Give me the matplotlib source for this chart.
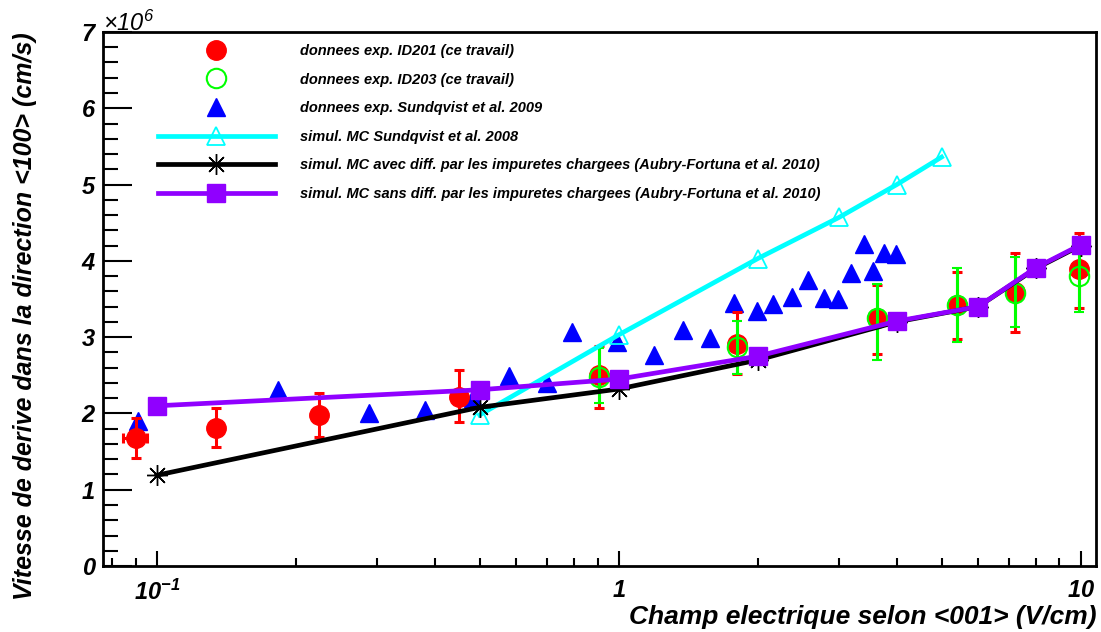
import numpy as np
import matplotlib
matplotlib.use('Agg')
import matplotlib.pyplot as plt
from matplotlib.lines import Line2D
from matplotlib.ticker import FixedLocator, NullFormatter, MultipleLocator

plt.rcParams['font.family'] = ['Liberation Sans', 'DejaVu Sans']
plt.rcParams['mathtext.fontset'] = 'custom'
plt.rcParams['mathtext.rm'] = 'Liberation Sans:italic'
plt.rcParams['mathtext.it'] = 'Liberation Sans:italic'
plt.rcParams['mathtext.bf'] = 'Liberation Sans:bold:italic'

# data (velocity in units of 1e6 cm/s)
red_x = [0.090, 0.134, 0.225, 0.451, 0.905, 1.80, 3.62, 5.39, 7.2, 9.9]
red_y = [1.68, 1.81, 1.98, 2.21, 2.50, 2.91, 3.25, 3.42, 3.59, 3.89]
red_lo = [1.42, 1.56, 1.69, 1.89, 2.07, 2.52, 2.78, 2.97, 3.07, 3.38]
red_hi = [1.94, 2.07, 2.27, 2.57, 2.88, 3.33, 3.68, 3.85, 4.10, 4.36]
red_xerr = [0.0053, 0, 0, 0, 0, 0, 0, 0, 0, 0]

green_x = [0.905, 1.80, 3.62, 5.39, 7.2, 9.9]
green_y = [2.48, 2.87, 3.25, 3.42, 3.58, 3.80]
green_lo = [2.14, 2.52, 2.70, 2.94, 3.13, 3.33]
green_hi = [2.86, 3.21, 3.70, 3.90, 4.05, 4.30]

blue_x = [0.091, 0.183, 0.288, 0.380, 0.483, 0.578, 0.698, 0.791, 0.99, 1.19,
          1.38, 1.58, 1.78, 1.99, 2.16, 2.37, 2.57, 2.78, 2.98, 3.18, 3.39,
          3.56, 3.76, 3.98]
blue_y = [1.90, 2.31, 2.00, 2.04, 2.20, 2.49, 2.40, 3.07, 2.94, 2.77,
          3.09, 2.99, 3.45, 3.34, 3.43, 3.52, 3.75, 3.51, 3.50, 3.84, 4.22,
          3.87, 4.10, 4.09]

cyan_x = [0.5, 1, 2, 3, 4, 5]
cyan_y = [1.98, 3.03, 4.03, 4.57, 5.00, 5.36]

mc_x = [0.1, 0.5, 1, 2, 4, 6, 8, 10]
black_y = [1.19, 2.08, 2.32, 2.70, 3.20, 3.40, 3.90, 4.20]
purple_y = [2.10, 2.31, 2.45, 2.75, 3.21, 3.40, 3.91, 4.21]

labels = ["donnees exp. ID201 (ce travail)",
          "donnees exp. ID203 (ce travail)",
          "donnees exp. Sundqvist et al. 2009",
          "simul. MC Sundqvist et al. 2008",
          "simul. MC avec diff. par les impuretes chargees (Aubry-Fortuna et al. 2010)",
          "simul. MC sans diff. par les impuretes chargees (Aubry-Fortuna et al. 2010)"]

RED = '#ff0000'
GREEN = '#00ff00'
BLUE = '#0000ff'
CYAN = '#00ffff'
PURPLE = '#9000ff'

fig = plt.figure(figsize=(11.01, 6.32), dpi=100)
ax = fig.add_axes([0.0936, 0.1044, 0.9019, 0.845])

ax.plot(blue_x, blue_y, ls='none', marker='^', ms=12.5, color=BLUE, zorder=2)

ax.errorbar(red_x, red_y,
            yerr=[np.subtract(red_y, red_lo), np.subtract(red_hi, red_y)],
            xerr=red_xerr, fmt='o', ms=14, color=RED, ecolor=RED,
            elinewidth=2.2, capsize=3.5, capthick=2.2, zorder=3)
ax.errorbar(green_x, green_y,
            yerr=[np.subtract(green_y, green_lo), np.subtract(green_hi, green_y)],
            fmt='o', ms=14, mfc='none', mec=GREEN, mew=1.5, ecolor=GREEN,
            elinewidth=2.2, capsize=3.5, capthick=2.2, zorder=4)

ax.plot(cyan_x, cyan_y, color=CYAN, lw=3.4, marker='^', ms=13, mfc='none',
        mec=CYAN, mew=1.3, zorder=5)
ax.plot(mc_x, black_y, color='black', lw=3.4, marker=(8, 2, 0), ms=15,
        mew=1.0, zorder=6)
ax.plot(mc_x, purple_y, color=PURPLE, lw=3.4, marker='s', ms=13.5, zorder=7)

ax.set_xscale('log')
ax.set_xlim(0.0765, 10.8)
ax.set_ylim(0, 7)

ax.xaxis.set_major_locator(FixedLocator([0.1, 1, 10]))
ax.set_xticklabels([r'$\mathbf{10^{-1}}$', r'$\mathbf{1}$', r'$\mathbf{10}$'])
minor = [0.08, 0.09] + [k * 0.1 for k in range(2, 10)] + list(range(2, 10))
ax.xaxis.set_minor_locator(FixedLocator(minor))
ax.xaxis.set_minor_formatter(NullFormatter())
ax.yaxis.set_major_locator(MultipleLocator(1))
ax.yaxis.set_minor_locator(MultipleLocator(0.2))

ax.tick_params(axis='both', which='both', direction='in', top=False, right=False)
ax.tick_params(axis='y', which='major', length=21, width=1.5, pad=6, labelsize=17)
ax.tick_params(axis='y', which='minor', length=11, width=1.5)
ax.tick_params(axis='x', which='major', length=11, width=1.5, pad=10, labelsize=17)
ax.tick_params(axis='x', which='minor', length=6, width=1.5)
for lab in ax.get_yticklabels():
    lab.set_fontweight('bold')
    lab.set_fontstyle('italic')
for sp in ax.spines.values():
    sp.set_linewidth(2)

ax.set_xlabel("Champ electrique selon <001> (V/cm)", loc='right',
              fontsize=19, fontweight='bold', fontstyle='italic', labelpad=0)
ax.set_ylabel("Vitesse de derive dans la direction <100> (cm/s)", loc='top',
              fontsize=18, fontweight='bold', fontstyle='italic', labelpad=32)

ax.text(0.0, 0.993, r'$\times10^{6}$', transform=ax.transAxes, fontsize=17,
        ha='left', va='bottom')

handles = [
    Line2D([], [], ls='none', marker='o', ms=14, color=RED),
    Line2D([], [], ls='none', marker='o', ms=14, mfc='none', mec=GREEN, mew=1.5),
    Line2D([], [], ls='none', marker='^', ms=12.5, color=BLUE),
    Line2D([], [], color=CYAN, lw=3.4, marker='^', ms=13, mfc='none', mec=CYAN, mew=1.3),
    Line2D([], [], color='black', lw=3.4, marker=(8, 2, 0), ms=15, mew=1.0),
    Line2D([], [], color=PURPLE, lw=3.4, marker='s', ms=13.5),
]
leg = ax.legend(handles, labels, loc='upper left', bbox_to_anchor=(158 / 1101, 1 - 44 / 632),
                bbox_transform=fig.transFigure, frameon=False, numpoints=1,
                prop={'family': 'Liberation Sans', 'weight': 'bold', 'style': 'italic', 'size': 10.5},
                handlelength=8.0, handletextpad=1.75, labelspacing=1.0,
                borderpad=0, borderaxespad=0)

fig.savefig('out.png', dpi=100)
